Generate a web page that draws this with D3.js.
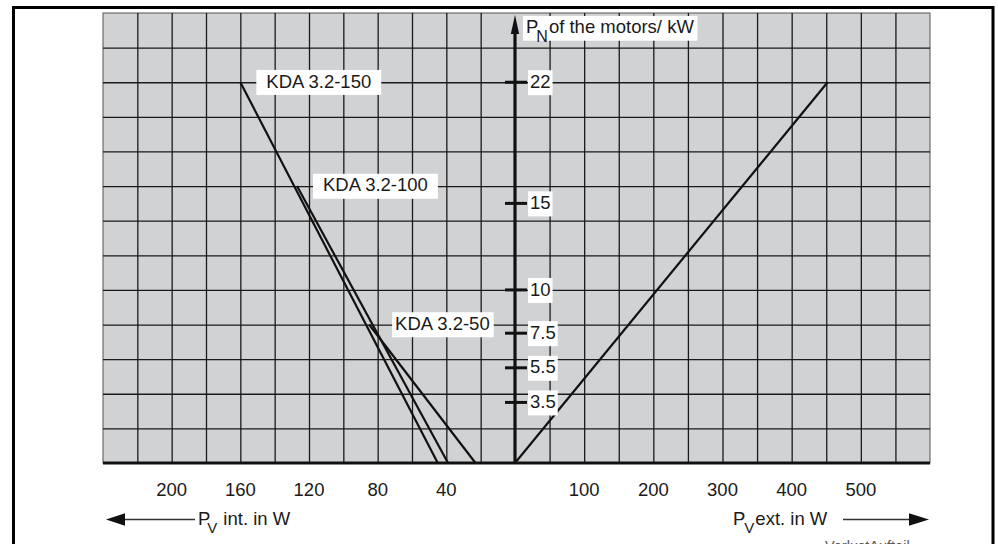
<!DOCTYPE html>
<html>
<head>
<meta charset="utf-8">
<script src="https://cdn.jsdelivr.net/npm/d3@7"></script>
<style>
  body { margin: 0; background: #fff; }
  svg { display: block; font-family: "Liberation Sans", Arial, Helvetica, sans-serif; }
</style>
</head>
<body>
<svg id="chart"></svg>
<script>
// tick labels on both halves of the x axis (W) and on the power axis (kW)
var intTicks = [200, 160, 120, 80, 40];
var extTicks = [100, 200, 300, 400, 500];
var powerTicks = [3.5, 5.5, 7.5, 10, 15, 22];

// internal losses per model: w = loss in W, kw = motor power
var seriesNames = ['KDA 3.2-150', 'KDA 3.2-100', 'KDA 3.2-50'];
var kda150 = [{ w: 160, kw: 22 }, { w: 45, kw: 0 }];
var kda100 = [{ w: 127, kw: 16 }, { w: 39, kw: 0 }];
var kda50 = [{ w: 85, kw: 8 }, { w: 23, kw: 0 }];

// external losses (right half)
var extLoss = [{ w: 0, kw: 0 }, { w: 452, kw: 22 }];

var svgWidth = 998, svgHeight = 544;
var plotLeft = 103, plotRight = 930, plotTop = 13, plotBottom = 463, axisX = 515;
var fontSize = 18.5;

var svg = d3.select('#chart')
    .attr('width', svgWidth)
    .attr('height', svgHeight);

// left half counts internal losses, right half external ones
var xInt = d3.scaleLinear().domain([0, 240]).range([axisX, plotLeft]);
var xExt = d3.scaleLinear().domain([0, 600]).range([axisX, plotRight]);
var y = d3.scaleLinear().domain([0, 26]).range([plotBottom, plotTop]);

// outer frame
svg.append('rect')
    .attr('x', 13.5).attr('y', 7.5)
    .attr('width', 979.5).attr('height', 600)
    .attr('fill', 'none')
    .attr('stroke', '#000')
    .attr('stroke-width', 3);

// grey plot area
svg.append('rect')
    .attr('x', plotLeft).attr('y', plotTop)
    .attr('width', plotRight - plotLeft).attr('height', plotBottom - plotTop)
    .attr('fill', '#d1d2d4')
    .attr('stroke', '#555')
    .attr('stroke-width', 1);

function gridStyle(g) {
    g.select('.domain').remove();
    g.selectAll('.tick line')
        .attr('stroke', '#1a1a1a')
        .attr('stroke-width', 1.3);
    g.selectAll('.tick text').remove();
}

svg.append('g')
    .attr('transform', 'translate(0,' + plotBottom + ')')
    .call(d3.axisBottom(xInt).tickValues(d3.range(20, 240, 20)).tickSize(-(plotBottom - plotTop)).tickFormat(''))
    .call(gridStyle);

svg.append('g')
    .attr('transform', 'translate(0,' + plotBottom + ')')
    .call(d3.axisBottom(xExt).tickValues(d3.range(50, 600, 50)).tickSize(-(plotBottom - plotTop)).tickFormat(''))
    .call(gridStyle);

svg.append('g')
    .attr('transform', 'translate(' + plotLeft + ',0)')
    .call(d3.axisLeft(y).tickValues(d3.range(2, 26, 2)).tickSize(-(plotRight - plotLeft)).tickFormat(''))
    .call(gridStyle);

// white box behind a text element
function boxed(textSel, padL, padR) {
    var b = textSel.node().getBBox();
    var baseline = +textSel.attr('y');
    svg.insert('rect', function () { return textSel.node(); })
        .attr('x', b.x - padL)
        .attr('y', baseline - 17.6)
        .attr('width', b.width + padL + padR)
        .attr('height', 25)
        .attr('fill', '#fff');
}

// the curves
var lineInt = d3.line()
    .x(function (d) { return xInt(d.w); })
    .y(function (d) { return y(d.kw); });
var lineExt = d3.line()
    .x(function (d) { return xExt(d.w); })
    .y(function (d) { return y(d.kw); });

[kda150, kda100, kda50].forEach(function (data, i) {
    svg.append('path')
        .datum(data)
        .attr('fill', 'none')
        .attr('stroke', '#111')
        .attr('stroke-width', 2.2)
        .attr('d', lineInt);

    var t = svg.append('text')
        .attr('x', xInt(data[0].w) + 26)
        .attr('y', y(data[0].kw) + 5.3)
        .attr('font-size', fontSize)
        .attr('fill', '#1a1a1a')
        .text(seriesNames[i]);
    boxed(t, i == 2 ? 3 : 10, i == 2 ? 4 : 10);
});

svg.append('path')
    .datum(extLoss)
    .attr('fill', 'none')
    .attr('stroke', '#111')
    .attr('stroke-width', 2.2)
    .attr('d', lineExt);

// thick x axis
svg.append('line')
    .attr('x1', xInt(240)).attr('x2', xExt(600))
    .attr('y1', y(0)).attr('y2', y(0))
    .attr('stroke', '#111')
    .attr('stroke-width', 3);

// vertical power axis with arrow
svg.append('line')
    .attr('x1', axisX).attr('x2', axisX)
    .attr('y1', y(0)).attr('y2', 30)
    .attr('stroke', '#111')
    .attr('stroke-width', 3.2);
svg.append('path')
    .attr('d', 'M' + axisX + ',15L' + (axisX + 4.2) + ',34L' + (axisX - 4.2) + ',34Z')
    .attr('fill', '#111');

// power ticks
powerTicks.forEach(function (v) {
    svg.append('line')
        .attr('x1', axisX - 10).attr('x2', axisX + 12)
        .attr('y1', y(v)).attr('y2', y(v))
        .attr('stroke', '#111')
        .attr('stroke-width', 3);
    var t = svg.append('text')
        .attr('x', axisX + 15)
        .attr('y', y(v) + 5.6)
        .attr('font-size', fontSize)
        .attr('fill', '#1a1a1a')
        .text(v);
    boxed(t, 2, 2);
});

// axis title
var title = svg.append('text')
    .attr('x', 526)
    .attr('y', 33.3)
    .attr('font-size', fontSize)
    .attr('fill', '#1a1a1a');
title.append('tspan').text('P');
title.append('tspan').attr('dx', -2).attr('dy', 9).attr('font-size', 16).text('N');
title.append('tspan').attr('dx', 1).attr('dy', -9).text('of the motors/ kW');
svg.insert('rect', function () { return title.node(); })
    .attr('x', 523).attr('y', 16)
    .attr('width', title.node().getBBox().width + 6)
    .attr('height', 24.7)
    .attr('fill', '#fff');

// x tick labels
svg.selectAll('.int-label')
    .data(intTicks)
    .enter().append('text')
    .attr('x', function (d) { return xInt(d); })
    .attr('y', 496)
    .attr('text-anchor', 'middle')
    .attr('font-size', fontSize)
    .attr('fill', '#1a1a1a')
    .text(function (d) { return d; });

svg.selectAll('.ext-label')
    .data(extTicks)
    .enter().append('text')
    .attr('x', function (d) { return xExt(d); })
    .attr('y', 496)
    .attr('text-anchor', 'middle')
    .attr('font-size', fontSize)
    .attr('fill', '#1a1a1a')
    .text(function (d) { return d; });

// direction arrows under the axis
var arrowY = 519.5;
svg.append('line')
    .attr('x1', 124).attr('x2', 195)
    .attr('y1', arrowY).attr('y2', arrowY)
    .attr('stroke', '#333').attr('stroke-width', 1.3);
svg.append('path')
    .attr('d', 'M106,' + arrowY + 'L125,' + (arrowY - 6.3) + 'L125,' + (arrowY + 6.3) + 'Z')
    .attr('fill', '#111');

svg.append('line')
    .attr('x1', 843).attr('x2', 910)
    .attr('y1', arrowY).attr('y2', arrowY)
    .attr('stroke', '#333').attr('stroke-width', 1.3);
svg.append('path')
    .attr('d', 'M929,' + arrowY + 'L909,' + (arrowY - 6.3) + 'L909,' + (arrowY + 6.3) + 'Z')
    .attr('fill', '#111');

var intTitle = svg.append('text')
    .attr('x', 198)
    .attr('y', 525)
    .attr('font-size', fontSize)
    .attr('fill', '#1a1a1a');
intTitle.append('tspan').text('P');
intTitle.append('tspan').attr('dx', -3).attr('dy', 8).attr('font-size', 15).text('V');
intTitle.append('tspan').attr('dx', 6).attr('dy', -8).text('int. in W');

var extTitle = svg.append('text')
    .attr('x', 733)
    .attr('y', 525)
    .attr('font-size', fontSize)
    .attr('fill', '#1a1a1a');
extTitle.append('tspan').text('P');
extTitle.append('tspan').attr('dx', -1).attr('dy', 8).attr('font-size', 15).text('V');
extTitle.append('tspan').attr('dx', 1).attr('dy', -8).text('ext. in W');

// file caption, cut off by the page edge
svg.append('text')
    .attr('x', 825)
    .attr('y', 550.5)
    .attr('font-size', 14.5)
    .attr('fill', '#555')
    .text('VerlustAufteil');
</script>
</body>
</html>
